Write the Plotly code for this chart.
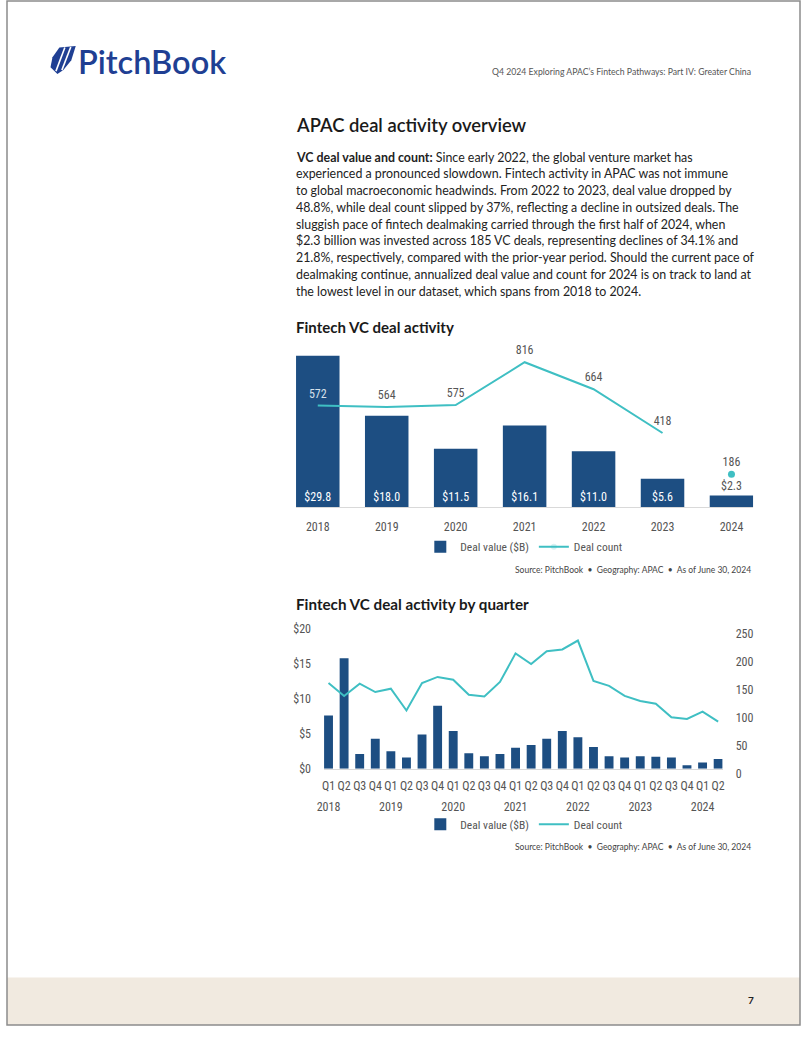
import plotly.graph_objects as go

W, H = 802, 1037


def xp(px):
    return px / W


def yp(py):
    return 1 - py / H


# ---------------- data ----------------
years = ["2018", "2019", "2020", "2021", "2022", "2023", "2024"]
deal_value = [29.8, 18.0, 11.5, 16.1, 11.0, 5.6, 2.3]
deal_count = [572, 564, 575, 816, 664, 418, 186]

quarter_cats = ["2018 Q1", "2018 Q2", "2018 Q3", "2018 Q4",
                "2019 Q1", "2019 Q2", "2019 Q3", "2019 Q4",
                "2020 Q1", "2020 Q2", "2020 Q3", "2020 Q4",
                "2021 Q1", "2021 Q2", "2021 Q3", "2021 Q4",
                "2022 Q1", "2022 Q2", "2022 Q3", "2022 Q4",
                "2023 Q1", "2023 Q2", "2023 Q3", "2023 Q4",
                "2024 Q1", "2024 Q2"]
quarter_labels = ["Q1", "Q2", "Q3", "Q4", "Q1", "Q2", "Q3", "Q4",
                  "Q1", "Q2", "Q3", "Q4", "Q1", "Q2", "Q3", "Q4",
                  "Q1", "Q2", "Q3", "Q4", "Q1", "Q2", "Q3", "Q4",
                  "Q1", "Q2"]
q_value = [7.6, 15.8, 2.1, 4.3, 2.5, 1.6, 4.9, 9.0,
           5.4, 2.2, 1.8, 2.1, 3.0, 3.4, 4.3, 5.4,
           4.5, 3.1, 1.8, 1.6, 1.8, 1.7, 1.6, 0.5,
           0.9, 1.4]
q_count = [153, 130, 152, 137, 143, 104, 153, 164,
           159, 132, 129, 155, 206, 187, 210, 213,
           229, 157, 148, 130, 121, 116, 92, 89,
           102, 84]
year_tick_pos = [0, 4, 8, 12, 16, 20, 24]
left_ticks = [0, 5, 10, 15, 20]
left_tick_text = ["$0", "$5", "$10", "$15", "$20"]
right_ticks = [0, 50, 100, 150, 200, 250]

NAVY = "#1d4e82"
TEAL = "#3fbfc3"
GREY = "#555555"
CFONT = "Liberation Sans Narrow, Roboto Condensed, Roboto, sans-serif"
TFONT = "Lato, Open Sans, sans-serif"

fig = go.Figure()

# ---------------- chart 1 ----------------
n = len(years)
fig.add_trace(go.Bar(
    x=years, y=deal_value, width=0.631, marker=dict(color=NAVY, line=dict(width=0)),
    text=[f"${v:.1f}" for v in deal_value],
    textposition=["inside"] * (n - 1) + ["outside"],
    insidetextanchor="start",
    insidetextfont=dict(color="white", size=12, family=CFONT),
    outsidetextfont=dict(color=GREY, size=12, family=CFONT),
    constraintext="none", cliponaxis=False,
    name="Deal value ($B)", legend="legend",
    xaxis="x", yaxis="y", hoverinfo="skip",
))
fig.add_trace(go.Scatter(
    x=years[:-1], y=deal_count[:-1], mode="lines+markers+text",
    line=dict(color=TEAL, width=2),
    marker=dict(size=6, opacity=0, color=TEAL),
    text=[str(v) for v in deal_count[:-1]],
    textposition="top center",
    textfont=dict(size=12, family=CFONT,
                  color=["#d6e0ea"] + [GREY] * (n - 2)),
    name="Deal count", legend="legend", cliponaxis=False,
    xaxis="x", yaxis="y2", hoverinfo="skip",
))
fig.add_trace(go.Scatter(
    x=years[-1:], y=deal_count[-1:], mode="markers+text",
    marker=dict(size=7, color=TEAL),
    text=[str(v) for v in deal_count[-1:]],
    textposition="top center",
    textfont=dict(size=12, family=CFONT, color=GREY),
    showlegend=False, cliponaxis=False,
    xaxis="x", yaxis="y2", hoverinfo="skip",
))

# ---------------- chart 2 ----------------
fig.add_trace(go.Bar(
    x=quarter_cats, y=q_value, width=0.57, marker=dict(color=NAVY, line=dict(width=0)),
    name="Deal value ($B)", legend="legend2",
    xaxis="x3", yaxis="y3", hoverinfo="skip",
))
fig.add_trace(go.Scatter(
    x=quarter_cats, y=q_count, mode="lines",
    line=dict(color=TEAL, width=2),
    name="Deal count", legend="legend2",
    xaxis="x3", yaxis="y4", hoverinfo="skip",
))
fig.add_trace(go.Scatter(
    x=[None], y=[None], mode="markers", showlegend=False,
    xaxis="x4", yaxis="y3", hoverinfo="skip",
))

axis_font = dict(size=12, family=CFONT, color=GREY)
legend_font = dict(size=11.5, family=CFONT, color=GREY)

fig.update_layout(
    width=W, height=H,
    margin=dict(l=0, r=0, t=0, b=0),
    paper_bgcolor="white", plot_bgcolor="rgba(0,0,0,0)",
    font=dict(family=TFONT, color="#222222"),
    xaxis=dict(domain=[xp(292.3), xp(754.7)], anchor="y", type="category",
               range=[-0.3155, 6.3155], showline=True, linecolor="#d9d9d9",
               linewidth=1, ticks="", showgrid=False, zeroline=False,
               tickfont=axis_font, ticklabelstandoff=8, fixedrange=True),
    yaxis=dict(domain=[yp(512.7), yp(350)], anchor="x", range=[0, 31.6],
               visible=False, fixedrange=True),
    yaxis2=dict(overlaying="y", anchor="x", range=[0, 903.9], visible=False,
                fixedrange=True),
    xaxis3=dict(domain=[xp(320.6), xp(723.8)], anchor="y3", type="category",
                range=[-0.29, 25.29], tickmode="array", tickvals=quarter_cats,
                ticktext=quarter_labels, showline=True, linecolor="#d9d9d9",
                linewidth=1, ticks="", showgrid=False, zeroline=False,
                tickfont=axis_font, ticklabelstandoff=6, fixedrange=True),
    xaxis4=dict(overlaying="x3", anchor="y3", side="bottom", type="linear",
                range=[-0.29, 25.29], tickmode="array", tickvals=year_tick_pos,
                ticktext=years, showline=False, showgrid=False, zeroline=False,
                ticks="", tickfont=axis_font, ticklabelstandoff=29,
                fixedrange=True),
    yaxis3=dict(domain=[yp(777.5), yp(630)], anchor="x3", range=[0, 20.83],
                tickmode="array", tickvals=left_ticks, ticktext=left_tick_text,
                showgrid=False, zeroline=False, showline=False, ticks="",
                tickfont=axis_font, ticklabelstandoff=12, fixedrange=True),
    yaxis4=dict(overlaying="y3", anchor="x3", side="right", range=[0, 260.1],
                tickmode="array", tickvals=right_ticks,
                showgrid=False, zeroline=False, showline=False, ticks="",
                tickfont=axis_font, ticklabelstandoff=12, ticklabelshift=5,
                fixedrange=True),
    legend=dict(orientation="h", x=xp(418), y=yp(538), xanchor="left",
                yanchor="top", font=legend_font,
                bgcolor="rgba(0,0,0,0)", itemwidth=30, tracegroupgap=0),
    legend2=dict(orientation="h", x=xp(418), y=yp(819), xanchor="left",
                 yanchor="top", font=legend_font,
                 bgcolor="rgba(0,0,0,0)", itemwidth=30, tracegroupgap=0),
    showlegend=True,
)

# ---------------- page decorations ----------------
shapes = [
    dict(type="rect", xref="paper", yref="paper", x0=0, x1=1, y0=0, y1=yp(989),
         fillcolor="#f1eae0", line=dict(width=0), layer="below"),
    dict(type="rect", xref="paper", yref="paper", x0=0, x1=1, y0=0, y1=1,
         fillcolor="rgba(0,0,0,0)", line=dict(color="#8c8c8c", width=1.5)),
]


def path_px(points):
    return "M " + " L ".join(f"{xp(a):.5f},{yp(b):.5f}" for a, b in points) + " Z"


shapes.append(dict(type="path", xref="paper", yref="paper",
                   path=path_px([(53, 47), (69.5, 45.5), (65, 60), (57, 70),
                                 (51, 74), (44, 67), (46, 57)]),
                   fillcolor="#1f3f93", line=dict(width=0)))
for (a, b), (c, d) in [((58.5, 47), (49.5, 71)), ((64.5, 46.5), (55.5, 70))]:
    shapes.append(dict(type="line", xref="paper", yref="paper",
                       x0=xp(a), y0=yp(b), x1=xp(c), y1=yp(d),
                       line=dict(color="white", width=1.6)))

body_lines = [
    "<b>VC deal value and count:</b> Since early 2022, the global venture market has",
    "experienced a pronounced slowdown. Fintech activity in APAC was not immune",
    "to global macroeconomic headwinds. From 2022 to 2023, deal value dropped by",
    "48.8%, while deal count slipped by 37%, reflecting a decline in outsized deals. The",
    "sluggish pace of fintech dealmaking carried through the first half of 2024, when",
    "&#36;2.3 billion was invested across 185 VC deals, representing declines of 34.1% and",
    "21.8%, respectively, compared with the prior-year period. Should the current pace of",
    "dealmaking continue, annualized deal value and count for 2024 is on track to land at",
    "the lowest level in our dataset, which spans from 2018 to 2024.",
]

src = "Source: PitchBook  \u2022  Geography: APAC  \u2022  As of June 30, 2024"

ann = [
    dict(text="PitchBook", x=xp(70), y=yp(61), xanchor="left", yanchor="middle",
         font=dict(size=32.5, family=TFONT, color="#1f3f93", weight=600)),
    dict(text="Q4 2024 Exploring APAC\u2019s Fintech Pathways: Part IV: Greater China",
         x=xp(754), y=yp(71), xanchor="right", yanchor="middle",
         font=dict(size=8.7, family=TFONT, color="#555555")),
    dict(text="APAC deal activity overview", x=xp(290), y=yp(126), xanchor="left",
         yanchor="middle", font=dict(size=18.4, family=TFONT, color="#1a1a1a", weight=600)),
    dict(text="Fintech VC deal activity", x=xp(290), y=yp(330), xanchor="left",
         yanchor="middle", font=dict(size=15, family=TFONT, color="#1a1a1a", weight=700)),
    dict(text=src, x=xp(754), y=yp(576), xanchor="right", yanchor="middle",
         font=dict(size=8.5, family=TFONT, color="#444444")),
    dict(text="Fintech VC deal activity by quarter", x=xp(290), y=yp(611), xanchor="left",
         yanchor="middle", font=dict(size=15.2, family=TFONT, color="#1a1a1a", weight=700)),
    dict(text=src, x=xp(754), y=yp(857), xanchor="right", yanchor="middle",
         font=dict(size=8.5, family=TFONT, color="#444444")),
    dict(text="<b>7</b>", x=xp(752), y=yp(1012), xanchor="center", yanchor="middle",
         font=dict(size=10, family=TFONT, color="#222222")),
]
for i, line in enumerate(body_lines):
    ann.append(dict(text=line, x=xp(290), y=yp(158 + 17 * i), xanchor="left",
                    yanchor="middle", align="left",
                    font=dict(size=12.4, family=TFONT, color="#222222")))
for a in ann:
    a.update(xref="paper", yref="paper", showarrow=False)

fig.update_layout(shapes=shapes, annotations=ann)

fig.write_html("out.html",
               config={"displayModeBar": False, "responsive": False},
               post_script="document.body.style.margin='0';"
                           "document.body.style.overflow='hidden';")
